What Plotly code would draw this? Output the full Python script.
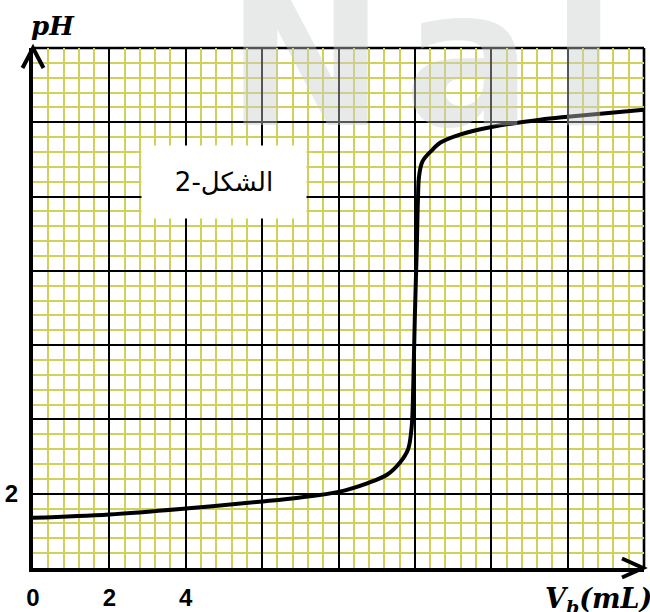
import plotly.graph_objects as go

# Titration curve: volume of base added (mL) vs pH
vb_ml = [0.0, 2.0, 4.0, 6.0, 7.0, 8.0, 8.75, 9.27, 9.61, 9.82, 9.90, 9.93, 9.96,
         10.0, 10.05, 10.08, 10.11, 10.20, 10.47, 10.66, 11.18, 12.04, 13.28, 14.0, 16.0]
ph = [1.35, 1.44, 1.60, 1.79, 1.90, 2.05, 2.28, 2.51, 2.84, 3.19, 3.64, 4.0, 5.0,
      6.8, 8.6, 9.9, 10.55, 10.95, 11.27, 11.45, 11.67, 11.88, 12.07, 12.15, 12.34]

x_ticks = [0, 2, 4, 6, 8, 10, 12, 14, 16]
x_labels = ["0", "2", "4", "", "", "", "", "", ""]
y_ticks = [0, 2, 4, 6, 8, 10, 12, 14]
y_labels = ["", "2", "", "", "", "", "", ""]

W, H = 650, 612
ML, MR, MT, MB = 33, 6, 48, 44
PW, PH = W - ML - MR, H - MT - MB

MINOR = "#d0d05a"

fig = go.Figure()
fig.add_trace(go.Scatter(
    x=vb_ml, y=ph, mode="lines",
    line=dict(color="black", width=4, shape="spline", smoothing=1.0),
    hoverinfo="skip", showlegend=False,
))

axis_common = dict(
    showgrid=True, gridcolor="black", gridwidth=2.2,
    zeroline=False, ticks="", automargin=False,
    showline=True, linecolor="black", linewidth=4,
    tickfont=dict(family="Liberation Sans, Arial", size=24, color="black", weight="bold"),
    tickmode="array",
    minor=dict(dtick=0.4, showgrid=True, gridcolor=MINOR, gridwidth=1.5, ticks=""),
)

fig.update_xaxes(range=[0, 16], tickvals=x_ticks, ticktext=x_labels,
                 ticklabelstandoff=5, **axis_common)
fig.update_yaxes(range=[0, 14], tickvals=y_ticks, ticktext=y_labels,
                 ticklabelstandoff=6, **axis_common)


def px_x(dx):
    return dx / PW


def px_y(dy):
    return dy / PH


shapes = [
    # top and right frame lines
    dict(type="line", xref="paper", yref="paper", x0=0, x1=1, y0=1, y1=1,
         line=dict(color="black", width=2.6), layer="between"),
    dict(type="line", xref="paper", yref="paper", x0=1, x1=1, y0=0, y1=1,
         line=dict(color="black", width=2.6), layer="between"),
    # arrowhead on the pH axis
    dict(type="path", xref="paper", yref="paper",
         path=f"M {-px_x(10.5)},{1 - px_y(20)} L 0,1 L {px_x(10.5)},{1 - px_y(20)}",
         line=dict(color="black", width=4), layer="above"),
    # arrowhead on the volume axis
    dict(type="path", xref="paper", yref="paper",
         path=f"M {1 - px_x(22)},{px_y(9.5)} L {1 - px_x(1)},0 L {1 - px_x(22)},{-px_y(9.5)}",
         line=dict(color="black", width=4), layer="above"),
]

annotations = [
    # faint watermark across the top
    dict(text="N\u200aa\u200al", xref="paper", yref="paper",
         x=(224 - ML) / PW, y=(H - MB - 172) / PH,
         xanchor="left", yanchor="bottom", showarrow=False,
         font=dict(family="DejaVu Sans", size=190, weight="bold",
                   color="rgba(200,206,206,0.42)")),
    # figure caption box
    dict(text="الشكل-2", xref="x", yref="y", x=5.0, y=10.39,
         showarrow=False, bgcolor="white", width=162, height=70,
         font=dict(family="DejaVu Sans", size=26, color="black")),
    # axis titles
    dict(text="<b><i>pH</i></b>", xref="paper", yref="paper",
         x=px_x(29 - ML), y=1 + px_y(48 - 26), xanchor="left", yanchor="middle",
         showarrow=False,
         font=dict(family="DejaVu Serif", size=26, color="black")),
    dict(text="<b><i>V<sub>b</sub>(mL)</i></b>", xref="paper", yref="paper",
         x=px_x(543 - ML), y=-px_y(600 - (H - MB)), xanchor="left", yanchor="middle",
         showarrow=False,
         font=dict(family="DejaVu Serif", size=27, color="black")),
]

fig.update_layout(
    width=W, height=H,
    margin=dict(l=ML, r=MR, t=MT, b=MB, pad=0),
    paper_bgcolor="white", plot_bgcolor="white",
    shapes=shapes, annotations=annotations,
    showlegend=False,
)

fig.write_html("out.html", config={"displayModeBar": False})
